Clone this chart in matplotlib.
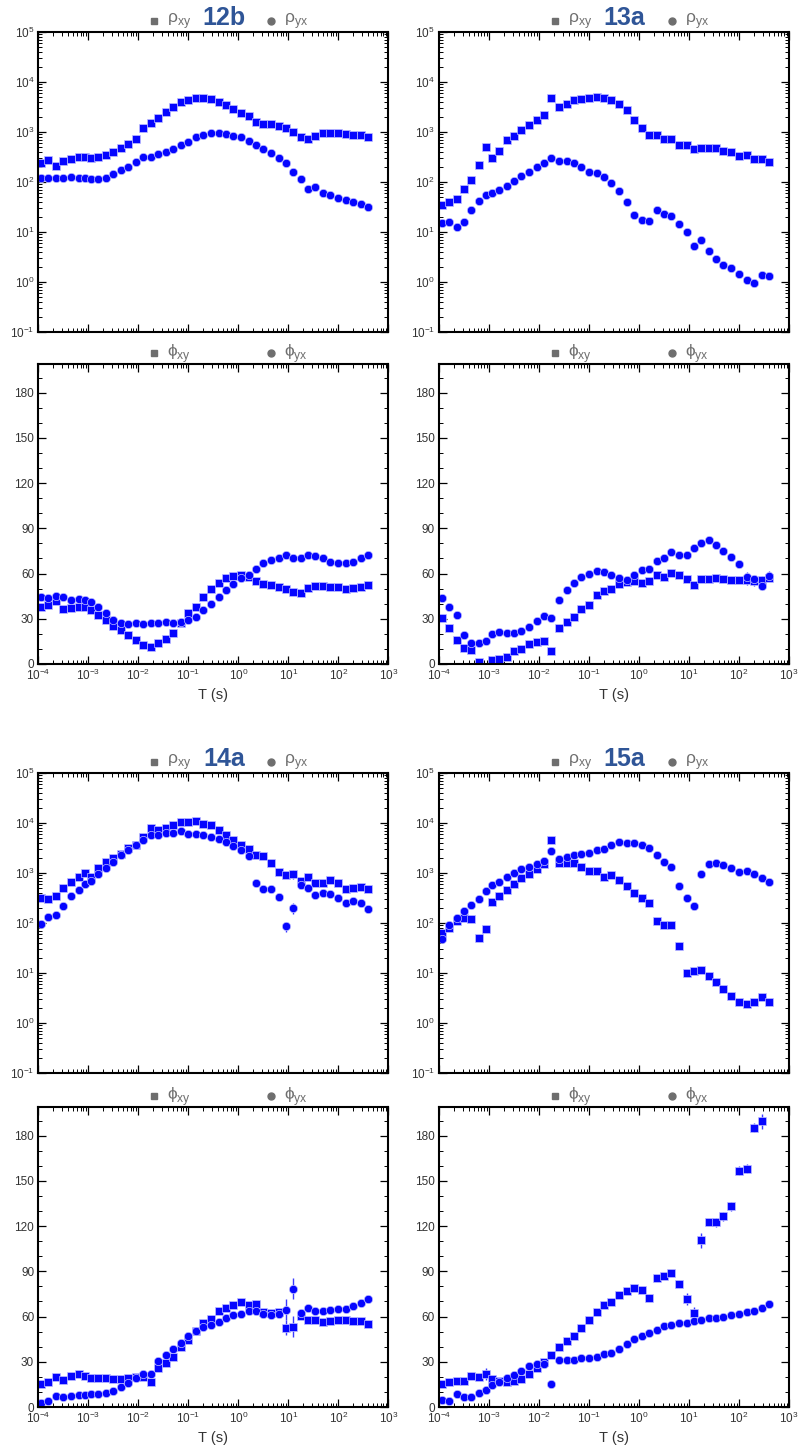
import numpy as np
import matplotlib
matplotlib.use('Agg')
import matplotlib.pyplot as plt
from matplotlib.ticker import LogLocator, MultipleLocator, NullFormatter

plt.rcParams['font.family'] = ['Liberation Sans', 'DejaVu Sans']
plt.rcParams['mathtext.fontset'] = 'dejavusans'

period = [1.15e-4, 1.56e-4, 2.26e-4, 3.17e-4, 4.44e-4, 6.42e-4, 8.72e-4, 1.13e-3,
          1.56e-3, 2.26e-3, 3.17e-3, 4.44e-3, 6.22e-3, 9.0e-3, 1.26e-2, 1.77e-2,
          2.48e-2, 3.58e-2, 5.02e-2, 7.04e-2, 9.86e-2, 0.143, 0.2, 0.28, 0.405,
          0.568, 0.796, 1.15, 1.61, 2.26, 3.17, 4.44, 6.42, 9.0, 12.6, 17.7, 24.8,
          34.7, 48.7, 68.2, 98.6, 142.6, 200, 289, 399]

stations = ['12b', '13a', '14a', '15a']

rho_xy = {
    '12b': [245, 270, 210, 262, 295, 310, 310, 300, 315, 345, 400, 485, 575, 735,
            1180, 1490, 1880, 2480, 3170, 3940, 4320, 4890, 4850, 4530, 4000, 3430,
            2900, 2440, 2060, 1560, 1470, 1470, 1300, 1220, 1000, 790, 710, 830, 970,
            970, 940, 900, 870, 870, 780],
    '13a': [34, 39, 46, 73, 109, 215, 508, 305, 422, 680, 844, 1080, 1360, 1740,
            2160, 4740, 3120, 3590, 4320, 4600, 4890, 4970, 4740, 4320, 3590, 2760,
            1770, 1220, 870, 885, 735, 724, 548, 557, 456, 485, 478, 478, 422, 391,
            335, 345, 287, 287, 250],
    '14a': [311, 302, 347, 509, 671, 845, 985, 830, 1240, 1660, 1960, 2360, 3210,
            3570, 5320, 7810, 7120, 7810, 8950, 10300, 10300, 10950, 9700, 8950, 7250,
            5680, 4640, 3630, 3020, 2290, 2220, 1610, 1050, 900, 955, 703, 832, 621,
            621, 713, 621, 471, 509, 525, 479],
    '15a': [62, 80, 108, 126, 118, 50, 76, 268, 352, 457, 594, 782, 970, 1180, 1510,
            4640, 1610, 1560, 1610, 1300, 1110, 1080, 845, 926, 736, 558, 398, 316,
            247, 108, 93, 90, 35, 9.9, 10.9, 11.4, 8.7, 6.5, 4.8, 3.5, 2.6, 2.45, 2.6,
            3.3, 2.6],
}

rho_yx = {
    '12b': [123, 123, 120, 121, 125, 121, 121, 116, 114, 123, 143, 173, 201, 246,
            310, 320, 368, 403, 463, 540, 630, 806, 884, 970, 955, 925, 845, 780, 670,
            550, 456, 385, 305, 235, 160, 114, 73, 79, 60, 56, 47, 44, 40, 37, 31],
    '13a': [15, 15.5, 12.6, 15.6, 28, 41, 54, 59, 68, 83, 104, 133, 158, 199, 242,
            296, 266, 262, 239, 199, 158, 150, 125, 97, 66, 39.5, 21.6, 17.7, 16.6,
            28, 23.3, 21, 14.7, 9.9, 5.3, 6.8, 4.1, 2.9, 2.2, 1.87, 1.46, 1.1, 0.94,
            1.38, 1.32],
    '14a': [95, 132, 145, 215, 342, 450, 603, 703, 940, 1240, 1660, 2250, 2880, 3630,
            4570, 5750, 5750, 6390, 6290, 7030, 6120, 5920, 5660, 5320, 4780, 4230,
            3410, 2840, 2150, 621, 479, 479, 331, 87, 200, 584, 501, 358, 398, 386,
            321, 255, 271, 255, 188],
    '15a': [47, 93, 126, 171, 232, 307, 443, 576, 661, 845, 1020, 1180, 1300, 1510,
            1710, 2710, 1930, 2090, 2290, 2360, 2510, 2930, 3020, 3690, 4110, 3980,
            3920, 3570, 3110, 2250, 1630, 1320, 550, 311, 215, 940, 1510, 1580, 1420,
            1260, 1060, 1100, 940, 794, 671],
}

phi_xy = {
    '12b': [38, 39, 42, 36.5, 37, 38, 38, 35.5, 32.5, 29, 25.5, 22.5, 19, 16, 12.5,
            11, 14, 16.5, 20.5, 27, 33.5, 38, 44.5, 50, 54, 57, 58.5, 59, 58, 55, 53,
            52.5, 51, 49.5, 48, 47, 50.5, 51.5, 51.5, 51, 51, 49.5, 50.5, 51, 52.5],
    '13a': [30.6, 23.6, 15.6, 10.4, 9.0, 1.5, np.nan, 2.6, 3.3, 4.8, 8.8, 9.9, 13.2,
            14.3, 15.0, 8.8, 23.6, 28.0, 31.5, 36.3, 39.0, 45.6, 48.2, 49.6, 53.3,
            54.4, 55.3, 53.5, 55.1, 59.3, 58.0, 60.6, 59.3, 56.2, 52.4, 56.2, 56.2,
            57.3, 56.6, 56.0, 55.5, 55.5, 54.8, 55.5, 57.0],
    '14a': [15, 16.8, 20.1, 18.1, 20.5, 21.8, 20.5, 19.2, 19.2, 19.2, 18.3, 18.8, 19.2,
            19.6, 19.6, 16.8, 26.0, 28.9, 32.9, 40, 44.5, 50.5, 55.8, 58.5, 63.5, 65.9,
            67.5, 69.5, 67.7, 68.4, 63.1, 62.3, 62.9, 52.7, 53.3, 60.4, 57.8, 57.4,
            56.7, 57.1, 57.8, 57.6, 57.1, 57.1, 55.2],
    '15a': [15.4, 16.5, 17.2, 17.2, 20.3, 19.9, 21.6, 18.5, 17.0, 16.5, 17.0, 18.8,
            21.8, 25.6, 30, 34.4, 39.7, 44.1, 47.4, 52.3, 57.6, 62.7, 67.7, 69.9, 74.3,
            77.2, 79.0, 77.7, 72.6, 85.6, 86.7, 88.9, 81.8, 71.9, 62.2, 110.7, 122.7,
            122.4, 126.4, 133.0, 156.6, 158.2, 185.1, 189.5, np.nan],
}

phi_yx = {
    '12b': [44.5, 44, 45, 44.5, 42.5, 43, 42.5, 41, 38, 33.5, 29.5, 27, 26.5, 27, 26.5,
            27.5, 27.5, 28, 27.5, 28, 29.5, 31.5, 35.5, 40, 44.5, 49, 53, 57, 59, 63,
            67, 69, 70.5, 72, 70.5, 70, 72.5, 71.5, 70, 67.5, 67, 67, 67.5, 70.5, 72],
    '13a': [43.8, 37.9, 32.4, 19.4, 14.1, 13.9, 15.2, 19.8, 20.9, 20.7, 20.5, 21.8,
            24.7, 28.6, 31.9, 30.8, 42.3, 48.9, 53.5, 57.5, 59.5, 61.7, 60.8, 59.3,
            57.3, 55.7, 59.3, 62.3, 63.0, 68.5, 70.5, 74.2, 72.2, 72.0, 76.7, 80.4,
            82.2, 78.7, 74.9, 70.7, 66.1, 58.0, 56.6, 52.0, 58.4],
    '14a': [2.6, 4.0, 7.3, 6.4, 7.1, 7.7, 7.9, 8.4, 8.8, 9.5, 10.4, 13.0, 15.7, 19.2,
            22.1, 22.1, 30.2, 34.8, 38.2, 42.6, 47.0, 50.3, 52.9, 54.7, 56.7, 59.1,
            60.7, 62.0, 64.0, 64.0, 61.5, 61.3, 62.0, 64.4, 78.4, 62.5, 65.7, 63.8,
            63.8, 64.2, 64.7, 64.7, 67.1, 68.8, 71.5],
    '15a': [4.4, 4.0, 8.4, 6.6, 6.6, 9.3, 11.5, 14.6, 16.5, 19.2, 21.2, 23.8, 26.9,
            28.7, 28.7, 15.0, 30.9, 31.3, 31.5, 32.6, 32.6, 33.3, 35.3, 35.7, 38.8,
            41.5, 45.0, 47.0, 49.4, 51.2, 53.4, 54.7, 56.0, 55.4, 57.1, 58.0, 58.9,
            59.3, 59.6, 61.1, 62.0, 62.9, 64.0, 66.0, 68.6],
}

# visible error bars: (index, error)
rho_xy_err = {'14a': [(34, 200)], '15a': [(34, 1.5)]}
rho_yx_err = {'14a': [(33, 20), (34, 50)]}
phi_xy_err = {'13a': [(41, 3), (42, 3), (43, 3)],
              '14a': [(33, 5), (34, 7)],
              '15a': [(6, 4), (33, 4), (34, 4), (35, 5), (36, 2), (37, 3),
                      (38, 3), (39, 3), (40, 3), (41, 3), (42, 3), (43, 5)]}
phi_yx_err = {'13a': [(41, 3), (43, 3), (44, 3)],
              '14a': [(33, 7), (34, 7)]}

BLUE = '#0505ff'
GREY = '#6e6e6e'
W, H = 802, 1449


def make_err(pairs):
    e = np.zeros(len(period))
    for i, v in pairs:
        e[i] = v
    return e


def style_axis(ax):
    for s in ax.spines.values():
        s.set_linewidth(1.5)
    ax.tick_params(which='both', direction='in', top=True, right=True,
                   labelsize=8.5, labelcolor='#333333', pad=3)
    ax.tick_params(which='major', length=6, width=0.9)
    ax.tick_params(which='minor', length=3, width=0.7)
    ax.set_xscale('log')
    ax.set_xlim(1e-4, 1e3)
    ax.xaxis.set_major_locator(LogLocator(base=10, numticks=20))
    ax.xaxis.set_minor_locator(LogLocator(base=10, subs=np.arange(2, 10), numticks=20))
    ax.xaxis.set_minor_formatter(NullFormatter())


def legend(ax, lab1, lab2, title=None):
    kw = dict(transform=ax.transAxes, clip_on=False, color=GREY, ls='none')
    ax.plot([0.331], [1.038], 's', ms=5, **kw)
    ax.plot([0.666], [1.038], 'o', ms=5, **kw)
    ax.text(0.368, 1.036, lab1, transform=ax.transAxes, color=GREY,
            fontsize=12.5, va='center', ha='left')
    ax.text(0.703, 1.036, lab2, transform=ax.transAxes, color=GREY,
            fontsize=12.5, va='center', ha='left')
    if title:
        ax.text(0.53, 1.047, title, transform=ax.transAxes, color='#2f5597',
                fontsize=18, fontweight='bold', va='center', ha='center')


def draw(ax, y1, y2, e1, e2):
    ax.errorbar(period, y1, yerr=e1, fmt='s', color=BLUE, ms=5.6, mec='#c0c0ff',
                mew=0.5, elinewidth=1, ecolor='#3a3aff', capsize=0)
    ax.errorbar(period, y2, yerr=e2, fmt='o', color=BLUE, ms=6.0, mec='#c0c0ff',
                mew=0.5, elinewidth=1, ecolor='#3a3aff', capsize=0)


fig = plt.figure(figsize=(W / 100, H / 100), dpi=100)

cols = {'12b': 38.3, '13a': 439, '14a': 38.3, '15a': 439}
rho_top = {'12b': 32, '13a': 32, '14a': 773, '15a': 773}
phi_top = {'12b': 364, '13a': 364, '14a': 1107, '15a': 1107}

for st in stations:
    x0 = cols[st]
    ax = fig.add_axes([x0 / W, 1 - (rho_top[st] + 300) / H, 350 / W, 300 / H])
    style_axis(ax)
    ax.set_yscale('log')
    ax.set_ylim(1e-1, 1e5)
    ax.yaxis.set_major_locator(LogLocator(base=10, numticks=20))
    ax.yaxis.set_minor_locator(LogLocator(base=10, subs=np.arange(2, 10), numticks=20))
    ax.yaxis.set_minor_formatter(NullFormatter())
    ax.set_xticklabels([])
    draw(ax, rho_xy[st], rho_yx[st],
         make_err(rho_xy_err.get(st, [])), make_err(rho_yx_err.get(st, [])))
    legend(ax, r'ρ$_\mathregular{xy}$', r'ρ$_\mathregular{yx}$', st)

    ax2 = fig.add_axes([x0 / W, 1 - (phi_top[st] + 300) / H, 350 / W, 300 / H])
    style_axis(ax2)
    ax2.yaxis.set_major_locator(MultipleLocator(30))
    ax2.yaxis.set_minor_locator(MultipleLocator(10))
    draw(ax2, phi_xy[st], phi_yx[st],
         make_err(phi_xy_err.get(st, [])), make_err(phi_yx_err.get(st, [])))
    ax2.set_ylim(0, 199)
    ax2.set_xlabel('T (s)', fontsize=10.5, color='#333333', labelpad=3)
    legend(ax2, r'ϕ$_\mathregular{xy}$', r'ϕ$_\mathregular{yx}$')

fig.savefig('out.png', dpi=100)
